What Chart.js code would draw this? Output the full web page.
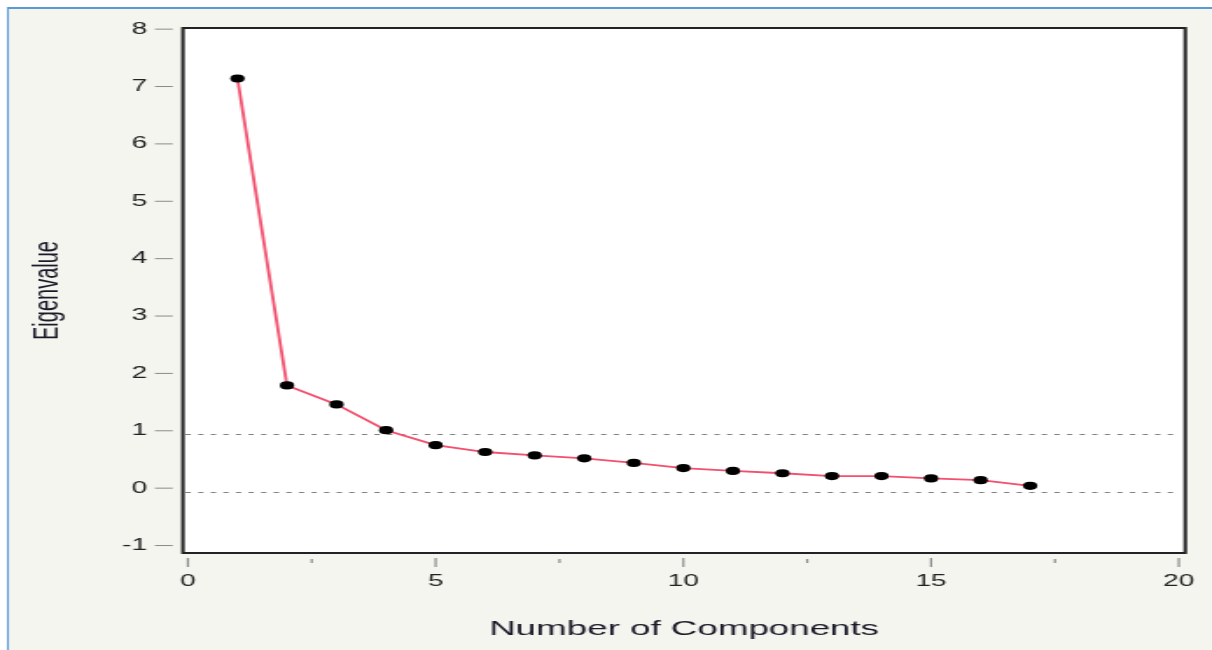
<!DOCTYPE html>
<html>
<head>
<meta charset="utf-8">
<script src="https://cdn.jsdelivr.net/npm/chart.js@4"></script>
<style>
  html, body { margin: 0; padding: 0; background: #fff; overflow: hidden; }
  /* the reference picture is stretched sideways, so the canvas is too */
  #scree { display: block; transform: scaleX(1.7489); transform-origin: 0 0; }
</style>
</head>
<body>
<canvas id="scree" width="693" height="650"></canvas>
<script>
// 데이터
const components = [1, 2, 3, 4, 5, 6, 7, 8, 9, 10, 11, 12, 13, 14, 15, 16, 17];
const eigenvalues = [7.14, 1.79, 1.46, 1.01, 0.75, 0.63, 0.57, 0.52, 0.44, 0.35, 0.30, 0.26, 0.21, 0.21, 0.17, 0.14, 0.04];
const xTicks = [0, 5, 10, 15, 20];
const xMinorTicks = [2.5, 7.5, 12.5, 17.5];
const yTicks = [-1, 0, 1, 2, 3, 4, 5, 6, 7, 8];
const refLines = [0.94, -0.06];

// 배경, 테두리, 눈금 ///////////////////////////////////////////////////////
const frame = {
    id: 'frame',
    beforeDraw(chart) {
        const ctx = chart.ctx;
        const a = chart.chartArea;
        ctx.save();
        ctx.fillStyle = '#fff';
        ctx.fillRect(0, 0, chart.width, chart.height);
        ctx.fillStyle = '#5b9bd5';                 // 파란 테두리
        ctx.fillRect(4, 7, chart.width, 2);
        ctx.fillRect(4, 7, 1.2, chart.height);
        ctx.fillStyle = '#f5f5f0';
        ctx.fillRect(5.2, 9, chart.width, chart.height);
        ctx.fillStyle = '#fff';
        ctx.fillRect(a.left, a.top, a.width, a.height);
        ctx.restore();
    },
    beforeDatasetsDraw(chart) {
        const ctx = chart.ctx;
        const a = chart.chartArea;
        const y = chart.scales.y;
        ctx.save();
        ctx.strokeStyle = '#808080';
        ctx.lineWidth = 1;
        ctx.setLineDash([3, 4.2]);
        refLines.forEach(v => {
            const py = Math.round(y.getPixelForValue(v)) + 0.5;
            ctx.beginPath();
            ctx.moveTo(a.left + 1.5, py);
            ctx.lineTo(a.right - 5, py);
            ctx.stroke();
        });
        ctx.restore();
    },
    afterDraw(chart) {
        const ctx = chart.ctx;
        const a = chart.chartArea;
        const x = chart.scales.x;
        const y = chart.scales.y;
        ctx.save();
        // 축 눈금 (축에서 조금 떨어져 있음)
        ctx.strokeStyle = '#8a8a8a';
        ctx.lineWidth = 1;
        yTicks.forEach(v => {
            const py = y.getPixelForValue(v);
            ctx.beginPath();
            ctx.moveTo(a.left - 16, py);
            ctx.lineTo(a.left - 5.8, py);
            ctx.stroke();
        });
        ctx.lineWidth = 1.2;
        xTicks.forEach(v => {
            const px = x.getPixelForValue(v);
            ctx.beginPath();
            ctx.moveTo(px, a.bottom + 5);
            ctx.lineTo(px, a.bottom + 14);
            ctx.stroke();
        });
        xMinorTicks.forEach(v => {
            const px = x.getPixelForValue(v);
            ctx.beginPath();
            ctx.moveTo(px, a.bottom + 6);
            ctx.lineTo(px, a.bottom + 10);
            ctx.stroke();
        });
        // 플롯 테두리
        ctx.strokeStyle = '#222';
        ctx.lineWidth = 2;
        ctx.strokeRect(a.left, a.top, a.width, a.height);
        ctx.restore();
    }
};

new Chart(document.getElementById('scree'), {
    type: 'line',
    data: {
        labels: components,
        datasets: [{
            data: components.map((c, i) => ({ x: c, y: eigenvalues[i] })),
            borderColor: '#f2506e',
            borderWidth: 1.8,
            tension: 0,
            pointRadius: 4.1,
            pointHoverRadius: 4.1,
            pointBackgroundColor: '#000',
            pointBorderColor: '#000',
            pointBorderWidth: 0
        }]
    },
    options: {
        responsive: false,
        maintainAspectRatio: false,
        animation: false,
        layout: { padding: { left: 0, top: 28, right: 15.3, bottom: 0 } },
        plugins: {
            legend: { display: false },
            tooltip: { enabled: false }
        },
        scales: {
            x: {
                type: 'linear',
                min: -0.1,
                max: 20.13,
                afterBuildTicks: s => { s.ticks = xTicks.map(v => ({ value: v })); },
                afterFit: s => { s.height = 97; s.paddingLeft = 0; s.paddingRight = 0; },
                grid: { display: false, drawTicks: false },
                border: { display: false },
                ticks: {
                    padding: 19,
                    color: '#222',
                    font: { family: 'Liberation Sans', size: 16 }
                },
                title: {
                    display: true,
                    text: 'Number of Components',
                    color: '#1a1a28',
                    font: { family: 'Liberation Sans', size: 21 },
                    padding: { top: 0, bottom: 8 }
                }
            },
            y: {
                min: -1.13,
                max: 8.02,
                afterBuildTicks: s => { s.ticks = yTicks.map(v => ({ value: v })); },
                afterFit: s => { s.width = 104.6; s.paddingTop = 0; s.paddingBottom = 0; },
                grid: { display: false, drawTicks: false },
                border: { display: false },
                ticks: {
                    padding: 20.5,
                    color: '#222',
                    font: { family: 'Liberation Sans', size: 16 }
                },
                title: {
                    display: true,
                    text: 'Eigenvalue',
                    color: '#1a1a28',
                    font: { family: 'Liberation Sans', size: 20 },
                    padding: { top: 15, bottom: 0 }
                }
            }
        }
    },
    plugins: [frame]
});
</script>
</body>
</html>
